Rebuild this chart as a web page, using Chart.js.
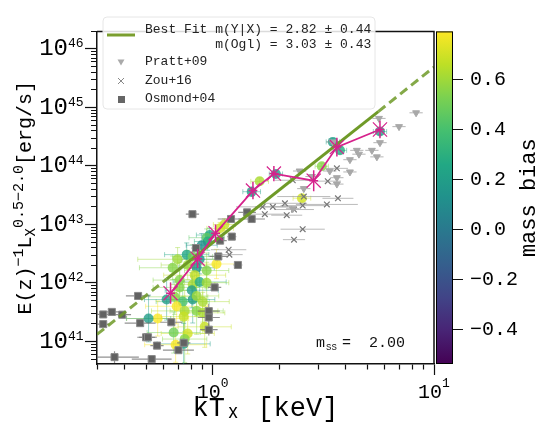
<!DOCTYPE html>
<html>
<head>
<meta charset="utf-8">
<script src="https://cdn.jsdelivr.net/npm/chart.js@4.4.0/dist/chart.umd.min.js"></script>
<style>
  html, body { margin: 0; padding: 0; background: #fff; }
  #wrap { width: 541px; height: 429px; position: relative; }
</style>
</head>
<body>
<div id="wrap"><canvas id="lxtChart"></canvas></div>
<script>
// binned relation (magenta)
const binKT = [0.645, 0.855, 1.03, 1.52, 1.89, 2.86, 3.64, 5.7];
const binLX = [6.7e41, 2.6e42, 7.1e42, 3.8e43, 7.4e43, 5.6e43, 2.1e44, 4.2e44];
const binErrKT = [0.02, 0.02, 0.02, 0.02, 0.02, 0.02, 0.02, 0.02];   // dex
const binErrLX = [0.18, 0.16, 0.15, 0.15, 0.13, 0.18, 0.16, 0.15];   // dex

// best fit (solid between the inner points, dashed outside)
const fitKT = [0.3, 0.62, 5.6, 10];
const fitLX = [1.32e41, 1.17e42, 8.5e44, 4.9e45];

// simulated groups, coloured by mass bias
const circKT = [5.70, 3.49, 3.76, 3.11, 2.53, 1.93, 1.63, 1.50, 1.13, 1.08,
  0.969, 0.939, 0.949, 0.892, 0.763, 0.812, 0.873, 0.694, 1.04, 0.659,
  0.939, 0.846, 0.771, 0.709, 0.829, 0.812, 0.873, 0.939, 0.804, 0.709,
  0.619, 0.673, 0.812, 0.732, 0.846, 0.687, 0.747, 0.846, 0.901, 0.739,
  0.564, 0.513, 0.666, 0.771, 0.747, 0.739, 0.680, 0.920, 0.901];
const circLX = [3.87e44, 2.58e44, 1.85e44, 9.9e43, 2.81e43, 7.3e43, 5.46e43, 3.63e43, 9.95e42, 8.6e42,
  6.6e42, 5.94e42, 5.12e42, 4.42e42, 3.05e42, 2.84e42, 2.54e42, 2.54e42, 2.11e42, 1.82e42,
  1.63e42, 1.82e42, 2.03e42, 1.12e42, 1.36e42, 9.4e41, 1.04e42, 1.01e42, 7.5e41, 8.4e41,
  5.2e41, 5.8e41, 5.2e41, 4.8e41, 6.0e41, 4.0e41, 3.33e41, 3.33e41, 4.8e41, 2.66e41,
  2.47e41, 2.47e41, 1.42e41, 1.37e41, 1.10e41, 9.1e40, 8.8e40, 1.78e41, 3.09e41];
const circBias = [0.22, 0.2, 0.28, 0.55, 0.7, 0.22, 0.62, 0.2, 0.68, 0.7,
  0.25, 0.45, 0.28, 0.12, 0.25, 0.5, 0.15, 0.6, 0.78, 0.55,
  0.55, 0.12, 0.6, 0.55, 0.68, 0.62, 0.28, 0.6, 0.2, 0.55,
  0.2, 0.55, 0.2, 0.4, 0.6, 0.78, 0.62, 0.55, 0.62, 0.68,
  0.78, 0.2, 0.5, 0.7, 0.55, 0.2, 0.78, 0.68, 0.62];
const circErrKT = [0.03, 0.03, 0.03, 0.03, 0.04, 0.03, 0.04, 0.04, 0.05, 0.06,
  0.06, 0.08, 0.06, 0.07, 0.1, 0.09, 0.08, 0.18, 0.1, 0.15,
  0.1, 0.08, 0.12, 0.12, 0.14, 0.1, 0.12, 0.1, 0.12, 0.12,
  0.1, 0.15, 0.1, 0.12, 0.1, 0.14, 0.15, 0.12, 0.12, 0.1,
  0.14, 0.1, 0.12, 0.12, 0.1, 0.12, 0.14, 0.12, 0.1];
const circErrLX = [0.05, 0.06, 0.06, 0.05, 0.05, 0.05, 0.06, 0.08, 0.1, 0.1,
  0.12, 0.15, 0.15, 0.2, 0.2, 0.2, 0.25, 0.2, 0.25, 0.2,
  0.3, 0.3, 0.25, 0.3, 0.25, 0.3, 0.3, 0.35, 0.3, 0.3,
  0.35, 0.3, 0.4, 0.35, 0.35, 0.3, 0.35, 0.4, 0.35, 0.35,
  0.3, 0.4, 0.35, 0.35, 0.4, 0.35, 0.3, 0.35, 0.35];

// Pratt+09
const prattKT = [8.3, 6.95, 5.64, 5.7, 5.24, 5.52, 4.48, 4.58, 4.17, 4.17, 3.38, 3.64, 3.64, 2.81, 2.47, 2.58, 2.30, 3.49];
const prattLX = [8.1e44, 4.7e44, 6.5e44, 2.5e44, 1.85e44, 1.43e44, 1.85e44, 1.59e44, 1.28e44, 7.9e43, 8.2e43, 6.3e43, 4.9e43, 6.6e43, 8.2e43, 4.1e43, 1.86e43, 2.57e44];

// Zou+16
const zouKT = [1.18, 1.19, 1.68, 1.72, 1.87, 2.12, 2.16, 2.33, 2.58, 2.55, 2.55, 2.33, 3.28, 3.64, 3.68, 3.31, 2.30];
const zouLX = [3.7e42, 3.05e42, 2.0e43, 1.5e43, 2.0e43, 2.3e43, 1.44e43, 1.8e43, 3.0e43, 2.1e43, 8.3e42, 5.5e42, 2.2e43, 9.1e43, 2.8e43, 5.5e43, 5.7e43];
const zouErrKT = [0.08, 0.06, 0.12, 0.1, 0.08, 0.1, 0.07, 0.09, 0.12, 0.1, 0.1, 0.05, 0.14, 0.05, 0.07, 0.06, 0.08];

// Osmond+04
const osmKT = [0.81, 1.21, 1.50, 1.43, 1.22, 1.08, 0.84, 1.06, 1.30, 1.02, 0.46, 0.96, 0.96, 0.96,
  0.32, 0.35, 0.39, 0.32, 0.47, 0.65, 0.50, 0.51, 0.56, 0.74, 0.70, 0.36, 0.53];
const osmLX = [1.5e43, 1.24e43, 1.24e43, 1.61e43, 6.2e42, 5.3e42, 3.95e42, 2.84e42, 2.03e42, 8.4e41, 6.0e41, 3.3e41, 2.57e41, 1.59e41,
  2.9e41, 3.2e41, 2.87e41, 1.98e41, 2.06e41, 2.13e41, 1.18e41, 1.18e41, 8.5e40, 9.5e40, 7.1e40, 5.4e40, 5.0e40];
const osmErrKT = [0.03, 0.06, 0.06, 0.04, 0.02, 0.03, 0.02, 0.04, 0.02, 0.03, 0.055, 0.05, 0.05, 0.04,
  0.04, 0.05, 0.04, 0.03, 0.07, 0.05, 0.04, 0.04, 0.03, 0.03, 0.07, 0.11, 0.09];
const osmErrLX = [0.03, 0.03, 0.03, 0.03, 0.03, 0.03, 0.03, 0.03, 0.03, 0.03, 0.04, 0.12, 0.12, 0.1,
  0.03, 0.03, 0.03, 0.03, 0.04, 0.04, 0.03, 0.03, 0.04, 0.04, 0.05, 0.1, 0.05];

// axis ticks
const xTickVals = [0.3, 0.4, 0.5, 0.6, 0.7, 0.8, 0.9, 1, 2, 3, 4, 5, 6, 7, 8, 9, 10];
const yTickVals = [];
for (let e = 40; e <= 46; e++) for (let m = 1; m <= 9; m++) {
  const v = m * Math.pow(10, e);
  if (v >= 4.1e40 && v <= 2e46) yTickVals.push(v);
}
const cbTickVals = [-0.4, -0.2, 0.0, 0.2, 0.4, 0.6];
const cbMin = -0.536, cbMax = 0.791;

const MONO = '"Liberation Mono", "DejaVu Sans Mono", monospace';

function isDecade(v) {
  const l = Math.log10(v);
  return Math.abs(l - Math.round(l)) < 1e-6;
}
const expOf = v => String(Math.round(Math.log10(v)));

const VIRIDIS = ['#440154', '#482475', '#414487', '#355f8d', '#2a788e', '#21918c',
  '#22a884', '#44bf70', '#7ad151', '#bddf26', '#fde725'];
function hexRgb(h) { return [1, 3, 5].map(i => parseInt(h.substr(i, 2), 16)); }
function viridis(t, a) {
  t = Math.max(0, Math.min(1, t)) * (VIRIDIS.length - 1);
  const i = Math.min(Math.floor(t), VIRIDIS.length - 2), f = t - i;
  const c0 = hexRgb(VIRIDIS[i]), c1 = hexRgb(VIRIDIS[i + 1]);
  const c = c0.map((v, k) => Math.round(v + (c1[k] - v) * f));
  return `rgba(${c[0]},${c[1]},${c[2]},${a === undefined ? 1 : a})`;
}
const biasT = b => (b - cbMin) / (cbMax - cbMin);

const pts = (xs, ys) => xs.map((v, i) => ({x: v, y: ys[i]}));

// error bars, in dex, drawn under each dataset's markers
const errorBars = {
  id: 'errorBars',
  beforeDatasetDraw(chart, args) {
    const ds = chart.data.datasets[args.index];
    if (!ds.errX && !ds.errY) return;
    const {ctx, chartArea, scales: {x, y}} = chart;
    ctx.save();
    ctx.beginPath();
    ctx.rect(chartArea.left, chartArea.top, chartArea.width, chartArea.height);
    ctx.clip();
    ctx.lineWidth = ds.errWidth || 1;
    const cap = ds.errCap || 0;
    ds.data.forEach((p, i) => {
      ctx.strokeStyle = Array.isArray(ds.errColor) ? ds.errColor[i] : ds.errColor;
      const px = x.getPixelForValue(p.x), py = y.getPixelForValue(p.y);
      ctx.beginPath();
      const ex = ds.errX ? ds.errX[i] : 0, ey = ds.errY ? ds.errY[i] : 0;
      if (ex) {
        const x0 = x.getPixelForValue(p.x / Math.pow(10, ex)), x1 = x.getPixelForValue(p.x * Math.pow(10, ex));
        ctx.moveTo(x0, py); ctx.lineTo(x1, py);
        if (cap) { ctx.moveTo(x0, py - cap); ctx.lineTo(x0, py + cap); ctx.moveTo(x1, py - cap); ctx.lineTo(x1, py + cap); }
      }
      if (ey) {
        const y0 = y.getPixelForValue(p.y / Math.pow(10, ey)), y1 = y.getPixelForValue(p.y * Math.pow(10, ey));
        ctx.moveTo(px, y0); ctx.lineTo(px, y1);
        if (cap) { ctx.moveTo(px - cap, y0); ctx.lineTo(px + cap, y0); ctx.moveTo(px - cap, y1); ctx.lineTo(px + cap, y1); }
      }
      ctx.stroke();
    });
    ctx.restore();
  }
};

// text run with mixed sizes: [text, size, baseline shift]
function richText(ctx, parts, x, y, measureOnly) {
  let cx = x;
  parts.forEach(([t, size, dy]) => {
    ctx.font = size + 'px ' + MONO;
    if (!measureOnly) ctx.fillText(t, cx, y + dy);
    cx += ctx.measureText(t).width;
  });
  return cx - x;
}

const Y_TITLE = [['E(z)', 20, 0], ['\u22121', 15, -8], ['L', 20, 0], ['X', 14, 4],
  ['0.5\u22122.0', 15, -8], ['[erg/s]', 20, 0]];

// frame, exponents, axis title, colorbar, legend box and the m_SS note
const decorations = {
  id: 'decorations',
  afterDraw(chart) {
    const {ctx, chartArea: ca} = chart;
    const cb = chart.scales.cb, sx = chart.scales.x, sy = chart.scales.y;
    ctx.save();
    // top and right spines
    ctx.strokeStyle = '#111';
    ctx.lineWidth = 1.5;
    ctx.beginPath();
    ctx.moveTo(ca.left, ca.top); ctx.lineTo(ca.right, ca.top); ctx.lineTo(ca.right, ca.bottom);
    ctx.stroke();

    // decade exponents next to the "10" tick labels
    ctx.fillStyle = '#000';
    ctx.textAlign = 'left';
    ctx.textBaseline = 'middle';
    ctx.font = '13px ' + MONO;
    sy.ticks.forEach(t => {
      if (!isDecade(t.value)) return;
      ctx.fillText(expOf(t.value), 68, sy.getPixelForValue(t.value) - 5);
    });
    sx.ticks.forEach(t => {
      if (!isDecade(t.value)) return;
      ctx.fillText(expOf(t.value), sx.getPixelForValue(t.value) + 8, 384);
    });

    // y axis title with sub/superscripts
    ctx.textBaseline = 'alphabetic';
    const w = richText(ctx, Y_TITLE, 0, 0, true);
    ctx.translate(24, (ca.top + ca.bottom) / 2);
    ctx.rotate(-Math.PI / 2);
    richText(ctx, Y_TITLE, -w / 2, 7);
    ctx.setTransform(1, 0, 0, 1, 0, 0);

    // colorbar
    const bx = ca.right + 2, bw = 17;
    const yTop = cb.getPixelForValue(cbMax), yBot = cb.getPixelForValue(cbMin);
    const g = ctx.createLinearGradient(0, yBot, 0, yTop);
    VIRIDIS.forEach((c, i) => g.addColorStop(i / (VIRIDIS.length - 1), c));
    ctx.fillStyle = g;
    ctx.fillRect(bx, yTop, bw, yBot - yTop);
    ctx.lineWidth = 1;
    ctx.strokeStyle = '#000';
    ctx.strokeRect(bx + 0.5, yTop + 0.5, bw - 1, yBot - yTop - 1);

    ctx.fillStyle = '#000';
    ctx.font = '22px ' + MONO;
    ctx.textAlign = 'center';
    ctx.textBaseline = 'middle';
    ctx.translate(529, (yTop + yBot) / 2);
    ctx.rotate(-Math.PI / 2);
    ctx.fillText('mass bias', 0, 0);
    ctx.setTransform(1, 0, 0, 1, 0, 0);

    // legend
    const lx = 103, ly = 17, lw = 272, lh = 92;
    ctx.beginPath();
    ctx.roundRect(lx, ly, lw, lh, 4);
    ctx.fillStyle = 'rgba(255,255,255,0.85)';
    ctx.fill();
    ctx.strokeStyle = '#e6e6e6';
    ctx.lineWidth = 1;
    ctx.stroke();

    ctx.strokeStyle = '#7a9e2e';
    ctx.lineWidth = 3;
    ctx.beginPath(); ctx.moveTo(107, 35); ctx.lineTo(135, 35); ctx.stroke();

    ctx.fillStyle = '#222';
    ctx.font = '13px ' + MONO;
    ctx.textAlign = 'left';
    ctx.textBaseline = 'middle';
    ctx.fillText('Best Fit m(Y|X) = 2.82 \u00b1 0.44', 145, 30);
    ctx.fillText('         m(Ogl) = 3.03 \u00b1 0.43', 145, 45);
    ctx.fillText('Pratt+09', 145, 62);
    ctx.fillText('Zou+16', 145, 81);
    ctx.fillText('Osmond+04', 145, 99);

    // legend markers
    ctx.fillStyle = '#aaa';
    ctx.beginPath(); ctx.moveTo(117.5, 59.5); ctx.lineTo(124.5, 59.5); ctx.lineTo(121, 65.5); ctx.closePath(); ctx.fill();
    ctx.strokeStyle = '#888'; ctx.lineWidth = 1;
    ctx.beginPath(); ctx.moveTo(118, 78); ctx.lineTo(124, 84); ctx.moveTo(124, 78); ctx.lineTo(118, 84); ctx.stroke();
    ctx.fillStyle = '#666';
    ctx.fillRect(118, 96, 7, 7);

    // m_SS note
    ctx.fillStyle = '#111';
    ctx.font = '15px ' + MONO;
    ctx.fillText('m', 316, 343);
    ctx.font = '9px ' + MONO;
    ctx.fillText('SS', 326, 348);
    ctx.font = '15px ' + MONO;
    ctx.fillText('=  2.00', 342, 343);
    ctx.restore();
  }
};

const magenta = '#d6228c';
const fitGreen = '#6f9a28';

const datasets = [
  {
    label: 'binned', data: pts(binKT, binLX),
    pointStyle: 'crossRot', pointRadius: 10, borderColor: magenta, backgroundColor: magenta,
    pointBorderWidth: 1.2, showLine: true, borderWidth: 1.8,
    errX: binErrKT, errY: binErrLX, errColor: magenta, errWidth: 1.5
  },
  {
    label: 'fit', data: pts(fitKT.slice(1, 3), fitLX.slice(1, 3)),
    showLine: true, pointRadius: 0, borderColor: fitGreen, borderWidth: 3
  },
  {
    label: 'fit low', data: pts(fitKT.slice(0, 2), fitLX.slice(0, 2)),
    showLine: true, pointRadius: 0, borderColor: 'rgba(111,154,40,0.85)', borderWidth: 3, borderDash: [9, 5]
  },
  {
    label: 'fit high', data: pts(fitKT.slice(2, 4), fitLX.slice(2, 4)),
    showLine: true, pointRadius: 0, borderColor: 'rgba(111,154,40,0.85)', borderWidth: 3, borderDash: [9, 5]
  },
  {
    label: 'Pratt+09', data: pts(prattKT, prattLX),
    pointStyle: 'triangle', rotation: 180, pointRadius: 4, backgroundColor: '#a8a8a8', borderColor: '#a8a8a8',
    errX: prattKT.map(() => 0.03), errColor: 'rgba(150,150,150,0.7)'
  },
  {
    label: 'Zou+16', data: pts(zouKT, zouLX),
    pointStyle: 'crossRot', pointRadius: 4, borderColor: '#777', backgroundColor: '#777', pointBorderWidth: 1.2,
    errX: zouErrKT, errColor: 'rgba(150,150,150,0.65)'
  },
  {
    label: 'Osmond+04', data: pts(osmKT, osmLX),
    pointStyle: 'rect', pointRadius: 5, backgroundColor: '#626262', borderColor: '#8a8a8a', pointBorderWidth: 1,
    errX: osmErrKT, errY: osmErrLX, errColor: 'rgba(110,110,110,0.75)', errWidth: 1.2
  },
  {
    label: 'groups', data: pts(circKT, circLX),
    pointStyle: 'circle', pointRadius: 5, borderWidth: 0,
    backgroundColor: circBias.map(b => viridis(biasT(b), 0.8)),
    errX: circErrKT, errY: circErrLX, errCap: 2.5,
    errColor: circBias.map(b => viridis(biasT(b), 0.45))
  }
];

new Chart(document.getElementById('lxtChart'), {
  type: 'scatter',
  data: { datasets },
  options: {
    responsive: true,
    maintainAspectRatio: false,
    animation: false,
    layout: { padding: { top: 10, left: 0, right: 0, bottom: 0 } },
    plugins: { legend: { display: false }, tooltip: { enabled: false } },
    scales: {
      x: {
        type: 'logarithmic', position: 'bottom', min: 0.3, max: 10,
        afterBuildTicks: s => { s.ticks = xTickVals.map(v => ({ value: v })); },
        afterFit: s => { s.height = 65; },
        ticks: {
          autoSkip: false, maxRotation: 0, color: '#000', padding: 6, labelOffset: -4,
          font: { family: MONO, size: 20 },
          callback: v => isDecade(v) ? '10' : ''
        },
        grid: {
          drawOnChartArea: false, tickLength: 11, tickColor: '#111', tickWidth: 1.2,
          tickBorderDash: c => (c.tick && isDecade(c.tick.value)) ? [] : [5, 50]
        },
        border: { color: '#111', width: 1.5 },
        title: {
          display: true, text: 'kTₓ [keV]', color: '#000',
          font: { family: MONO, size: 27 }, padding: { top: 0, bottom: 4 }
        }
      },
      y: {
        type: 'logarithmic', position: 'left', min: Math.pow(10, 40.615), max: Math.pow(10, 46.3),
        afterBuildTicks: s => { s.ticks = yTickVals.map(v => ({ value: v })); },
        afterFit: s => { s.width = 97; },
        ticks: {
          autoSkip: false, color: '#000', padding: 17,
          font: { family: MONO, size: 24 },
          callback: v => isDecade(v) ? '10' : ''
        },
        grid: {
          drawOnChartArea: false, tickLength: 12, tickColor: '#111', tickWidth: 1.2,
          tickBorderDash: c => (c.tick && isDecade(c.tick.value)) ? [] : [0, 6, 6, 50]
        },
        border: { color: '#111', width: 1.5 }
      },
      cb: {
        type: 'linear', position: 'right', min: cbMin, max: cbMax,
        afterBuildTicks: s => { s.ticks = cbTickVals.map(v => ({ value: v })); },
        afterFit: s => { s.width = 107; },
        ticks: {
          color: '#000', padding: 7, font: { family: MONO, size: 20 },
          callback: v => (v < -1e-9 ? '\u2212' : '') + Math.abs(v).toFixed(1)
        },
        grid: {
          drawOnChartArea: false, tickLength: 29, tickColor: '#111', tickWidth: 1.2,
          tickBorderDash: [0, 19, 10, 50]
        },
        border: { display: false }
      }
    }
  },
  plugins: [errorBars, decorations]
});
</script>
</body>
</html>
